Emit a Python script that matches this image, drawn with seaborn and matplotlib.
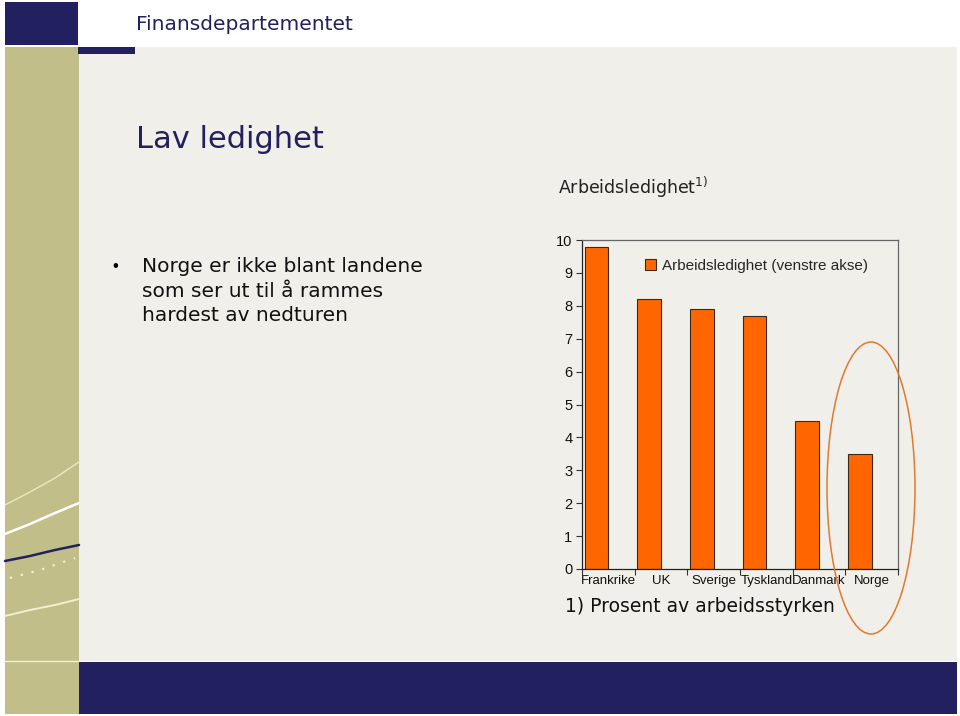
import matplotlib
matplotlib.use("Agg")
import matplotlib.pyplot as plt
import seaborn as sns
import pandas as pd
from matplotlib.patches import Rectangle, Ellipse
from matplotlib.lines import Line2D

# ---- data ----
countries = ["Frankrike", "UK", "Sverige", "Tyskland", "Danmark", "Norge"]
unemployment = [9.8, 8.2, 7.9, 7.7, 4.5, 3.5]
series_name = "Arbeidsledighet (venstre akse)"
empty_series = "_tom"          # second (empty) slot in each category, as in the original
y_ticks = [0, 1, 2, 3, 4, 5, 6, 7, 8, 9, 10]

sns.set_theme(style="white")
plt.rcParams["font.family"] = ["Liberation Sans", "DejaVu Sans"]
WIDE = ["DejaVu Sans"]

W, H = 960, 716
BG = "#F0EFE9"
KHAKI = "#C2BE8A"
NAVY = "#23205F"
ORANGE = "#FF6600"

fig = plt.figure(figsize=(W / 100, H / 100), dpi=100)
fig.patch.set_facecolor("white")


def prect(x0, y0, x1, y1, color, z=0):
    fig.patches.append(Rectangle((x0 / W, 1 - y1 / H), (x1 - x0) / W, (y1 - y0) / H,
                                 transform=fig.transFigure, facecolor=color,
                                 edgecolor="none", zorder=z))


def pline(xs, ys, **kw):
    fig.lines.append(Line2D([x / W for x in xs], [1 - y / H for y in ys],
                            transform=fig.transFigure, **kw))


# slide background
prect(79, 47, 957, 661, BG)
prect(5, 47, 79, 714, KHAKI)
prect(5, 2, 78, 45, NAVY)
prect(78, 47, 135, 54, NAVY)
prect(79, 662, 957, 714, NAVY)
pline([5, 79], [661, 661], color="#F3EFC8", lw=1)

# decorative curves in khaki strip
pline([5, 30, 55, 79], [505, 492, 478, 462], color="#EDE8C0", lw=1)
pline([5, 30, 55, 79], [534, 524, 513, 503], color="white", lw=1.8)
pline([5, 30, 55, 79], [561, 556, 550, 545], color=NAVY, lw=1.8)
pline([10, 40, 75], [578, 570, 558], color="#F3EFD0", lw=1.6, ls=(0, (1, 4)))
pline([5, 30, 55, 79], [616, 610, 605, 599], color="#F3EFD0", lw=1.4)

# texts
fig.text(136 / W, 1 - 25 / H, "Finansdepartementet", color=NAVY, fontsize=14.5,
         va="center", ha="left", family=WIDE)
fig.text(136 / W, 1 - 140 / H, "Lav ledighet", color=NAVY, fontsize=22,
         va="center", ha="left", family=WIDE)
fig.text(558 / W, 1 - 187 / H, "Arbeidsledighet$^{1)}$", color="#222222", fontsize=12.5,
         va="center", ha="left", family=WIDE)
fig.text(112 / W, 1 - 266 / H, "•", color="black", fontsize=12, va="center", ha="left")
for i, line in enumerate(["Norge er ikke blant landene", "som ser ut til å rammes",
                          "hardest av nedturen"]):
    fig.text(142 / W, 1 - (266 + 25 * i) / H, line, color="#111111", fontsize=14.5,
             va="center", ha="left", family=WIDE)
fig.text(565 / W, 1 - 607 / H, "1) Prosent av arbeidsstyrken", color="#111111",
         fontsize=13.5, va="center", ha="left", family=WIDE)

# chart
ax = fig.add_axes([582 / W, 1 - 569 / H, 316 / W, 329 / H])
ax.set_zorder(3)
ax.set_facecolor("none")
df = pd.DataFrame({
    "Land": countries + countries,
    "Verdi": unemployment + [0] * len(countries),
    "Serie": [series_name] * len(countries) + [empty_series] * len(countries),
})
sns.barplot(data=df, x="Land", y="Verdi", hue="Serie",
            hue_order=[series_name, empty_series],
            palette={series_name: ORANGE, empty_series: ORANGE}, saturation=1,
            width=0.9, edgecolor="#3a2a1a", linewidth=0.8, ax=ax, legend=True)
for p in ax.containers[1]:
    p.set_visible(False)
ax.set_ylim(0, 10)
ax.set_xlim(-0.5, len(countries) - 0.5)
ax.set_yticks(y_ticks)
ax.set_xlabel("")
ax.set_ylabel("")
ax.set_xticks(range(len(countries)))
ax.set_xticklabels(countries)
ax.tick_params(axis="x", length=0, pad=4, labelsize=9.5, labelcolor="#111111")
ax.tick_params(axis="y", length=4, width=0.8, color="#333333", left=True,
               pad=3, labelsize=10.5, labelcolor="#111111")
# boundary tick marks on x axis
ax.set_xticks([i - 0.5 for i in range(len(countries) + 1)], minor=True)
ax.tick_params(axis="x", which="minor", length=4, width=0.8, color="#333333", bottom=True)
for s in ["left", "bottom"]:
    ax.spines[s].set_color("#222222")
    ax.spines[s].set_linewidth(0.9)
for s in ["top", "right"]:
    ax.spines[s].set_color("#666666")
    ax.spines[s].set_linewidth(0.9)

handles, labels = ax.get_legend_handles_labels()
leg = ax.legend(handles[:1], labels[:1], loc="upper left", bbox_to_anchor=(0.17, 0.97),
                frameon=False, fontsize=11, handlelength=0.7, handleheight=0.7,
                handletextpad=0.4, borderaxespad=0.2)

# highlight ellipse around Norge
fig.patches.append(Ellipse((871 / W, 1 - 488 / H), 88 / W, 292 / H, transform=fig.transFigure,
                           facecolor="none", edgecolor="#E07A30", lw=1.1, zorder=5))

fig.savefig("out.png", dpi=100, facecolor=fig.get_facecolor())
